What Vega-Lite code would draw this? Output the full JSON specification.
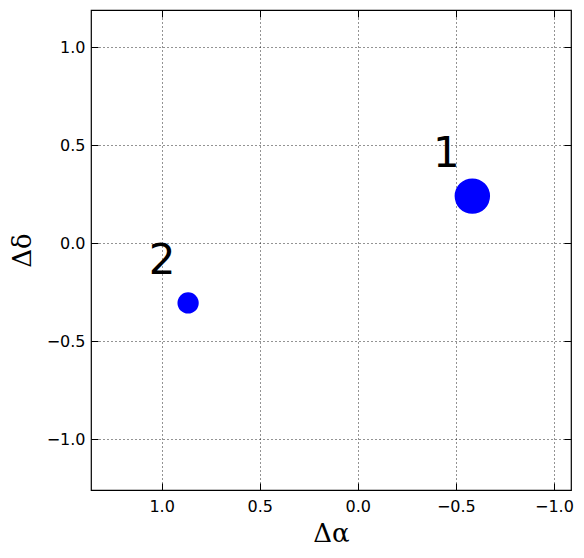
{
  "$schema": "https://vega.github.io/schema/vega-lite/v6.json",
  "width": 480,
  "height": 480,
  "autosize": {"type": "none"},
  "padding": {"left": 91, "top": 10, "right": 13, "bottom": 68},
  "background": "white",
  "config": {
    "view": {"stroke": "black", "strokeWidth": 1.2},
    "axis": {
      "labelFont": "DejaVu Sans",
      "labelFontSize": 16,
      "labelColor": "black",
      "domain": false,
      "grid": true,
      "gridColor": "black",
      "gridDash": [1, 3],
      "gridOpacity": 0.85,
      "gridWidth": 1,
      "tickColor": "black",
      "tickSize": -7,
      "tickWidth": 1,
      "titleFont": "DejaVu Serif",
      "titleFontSize": 26,
      "titleFontWeight": "normal",
      "titleColor": "black"
    }
  },
  "data": {
    "values": [
      {"label": "1", "dra": -0.584, "ddec": 0.240, "weight": 1.0},
      {"label": "2", "dra": 0.865, "ddec": -0.305, "weight": 0.36}
    ]
  },
  "layer": [
    {
      "mark": {"type": "circle", "color": "blue", "opacity": 1},
      "encoding": {
        "x": {
          "field": "dra", "type": "quantitative",
          "scale": {"domain": [1.36, -1.087], "nice": false, "zero": false},
          "axis": {"values": [1.0, 0.5, 0.0, -0.5, -1.0], "format": ".1f", "title": "Δα", "titleY": 43, "titleBaseline": "middle", "labelPadding": 15}
        },
        "y": {
          "field": "ddec", "type": "quantitative",
          "scale": {"domain": [-1.26, 1.19], "nice": false, "zero": false},
          "axis": {"values": [1.0, 0.5, 0.0, -0.5, -1.0], "format": ".1f", "title": "Δδ", "titleX": -69, "titleBaseline": "middle", "labelPadding": 13}
        },
        "size": {"field": "weight", "type": "quantitative", "scale": {"domain": [0, 1], "range": [0, 1257]}, "legend": null}
      }
    },
    {
      "mark": {"type": "text", "font": "DejaVu Sans", "fontSize": 42, "color": "black", "align": "center", "baseline": "alphabetic", "dx": -26, "dy": -29},
      "encoding": {
        "x": {"field": "dra", "type": "quantitative", "axis": {"orient": "top", "labels": false, "grid": false, "title": null, "values": [1.0, 0.5, 0.0, -0.5, -1.0]}},
        "y": {"field": "ddec", "type": "quantitative", "axis": {"orient": "right", "labels": false, "grid": false, "title": null, "values": [1.0, 0.5, 0.0, -0.5, -1.0]}},
        "text": {"field": "label"}
      }
    }
  ],
  "resolve": {"axis": {"x": "independent", "y": "independent"}}
}
